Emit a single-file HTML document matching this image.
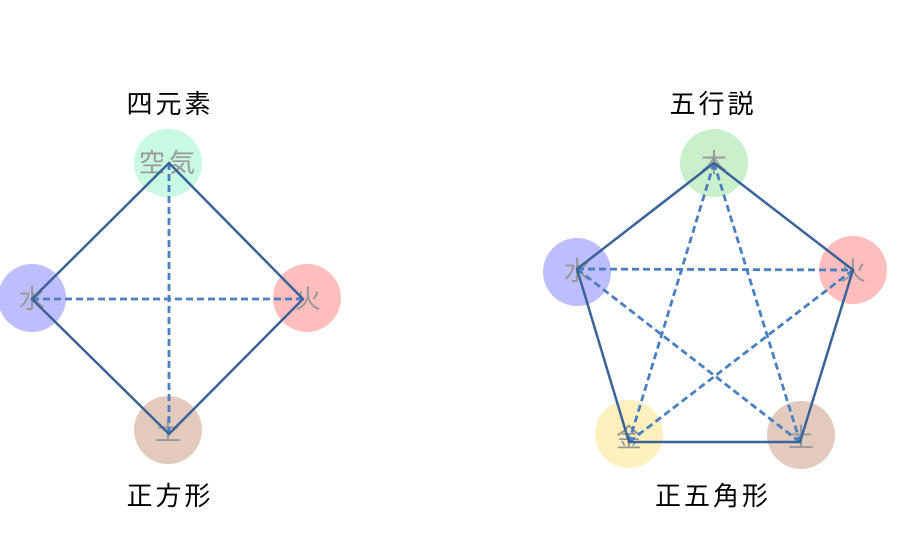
<!DOCTYPE html>
<html><head><meta charset="utf-8"><style>
html,body{margin:0;padding:0;background:#fff;}
svg text{font-family:"Liberation Sans","Noto Sans CJK JP",sans-serif;}
</style></head><body>
<svg width="905" height="547" viewBox="0 0 905 547" xmlns="http://www.w3.org/2000/svg">
<g font-size="26" fill="#000" text-anchor="middle" letter-spacing="3">
<text x="170" y="113">四元素</text>
<text x="170" y="505">正方形</text>
<text x="713" y="113">五行説</text>
<text x="713" y="505">正五角形</text>
</g>
<circle cx="168" cy="163" r="34" fill="#c8fae3"/>
<circle cx="32" cy="298" r="34" fill="#bebeff"/>
<circle cx="307" cy="298" r="34" fill="#ffbebe"/>
<circle cx="168" cy="430" r="34" fill="#e3cabe"/>
<circle cx="714" cy="163" r="34" fill="#caf0cb"/>
<circle cx="577" cy="272" r="34" fill="#bebeff"/>
<circle cx="853" cy="270" r="34" fill="#ffbebe"/>
<circle cx="629" cy="434" r="34" fill="#fff0be"/>
<circle cx="801" cy="435" r="34" fill="#e3cabe"/>
<g font-size="26" fill="#999" text-anchor="middle">
<text x="169" y="172" letter-spacing="4">空気</text>
<text x="32" y="308">水</text>
<text x="308" y="308">火</text>
<text x="168" y="440">土</text>
<text x="714" y="172">木</text>
<text x="577" y="280">水</text>
<text x="853" y="280">火</text>
<text x="629" y="447">金</text>
<text x="801" y="447">土</text>
</g>
<g stroke="#4a7fc1" stroke-width="2.8" stroke-dasharray="7,4" fill="none">
<line x1="169" y1="163" x2="169" y2="434"/>
<line x1="32" y1="299" x2="303" y2="299"/>
<line x1="714" y1="163" x2="629" y2="442"/>
<line x1="714" y1="163" x2="800" y2="442"/>
<line x1="577" y1="269" x2="853" y2="270"/>
<line x1="577" y1="269" x2="800" y2="442"/>
<line x1="853" y1="270" x2="629" y2="442"/>
</g>
<g stroke="#3a6398" stroke-width="2.5" fill="none" stroke-linejoin="miter">
<polygon points="169,163 303,299 169,434 32,299"/>
<polygon points="714,163 853,270 800,442 629,442 577,269"/>
</g>
</svg>
</body></html>
